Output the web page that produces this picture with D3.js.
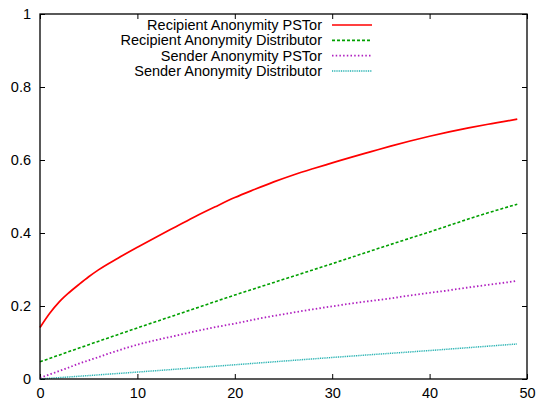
<!DOCTYPE html>
<html>
<head>
<meta charset="utf-8">
<script src="https://cdn.jsdelivr.net/npm/d3@7"></script>
<style>
	body { margin: 0; background: #fff; }
	svg text { font-family: "Liberation Sans", Arial, sans-serif; font-size: 14.5px; fill: #000; }
</style>
</head>
<body>
<svg id="chart" width="536" height="401"></svg>
<script>
'use strict';
// values
var recipientPSTorX = [0, 1, 2, 3, 4, 5, 6, 8, 10, 12, 14, 16, 18, 20, 22, 24, 26, 28, 30, 32, 34, 36, 38, 40, 42, 44, 46, 48, 49];
var recipientPSTorY = [0.141, 0.180, 0.212, 0.237, 0.259, 0.280, 0.299, 0.331, 0.361, 0.390, 0.418, 0.446, 0.472, 0.497, 0.519, 0.540, 0.559, 0.576, 0.592, 0.608, 0.623, 0.638, 0.652, 0.665, 0.677, 0.688, 0.698, 0.707, 0.712];

var recipientDistX = [0, 5, 10, 15, 20, 25, 30, 35, 40, 45, 49];
var recipientDistY = [0.047, 0.094, 0.140, 0.185, 0.230, 0.273, 0.316, 0.360, 0.403, 0.447, 0.479];

var senderPSTorX = [0, 2, 4, 6, 8, 10, 12, 14, 16, 18, 20, 22, 24, 26, 28, 30, 32, 34, 36, 38, 40, 42, 44, 46, 48, 49];
var senderPSTorY = [0.003, 0.022, 0.042, 0.060, 0.078, 0.094, 0.107, 0.119, 0.131, 0.142, 0.152, 0.163, 0.173, 0.182, 0.191, 0.199, 0.207, 0.214, 0.221, 0.229, 0.236, 0.243, 0.251, 0.258, 0.265, 0.269];

var senderDistX = [0, 10, 20, 30, 40, 49];
var senderDistY = [0.0, 0.019, 0.039, 0.059, 0.078, 0.096];

var seriesNames = ['Recipient Anonymity PSTor', 'Recipient Anonymity Distributor', 'Sender Anonymity PSTor', 'Sender Anonymity Distributor'];

var xTicks = [0, 10, 20, 30, 40, 50];
var xTickLabels = ['0', '10', '20', '30', '40', '50'];
var yTicks = [0, 0.2, 0.4, 0.6, 0.8, 1];
var yTickLabels = ['0', '0.2', '0.4', '0.6', '0.8', '1'];

// layout
var margin = {left: 40, top: 14, right: 527, bottom: 379};
var styles = [
	{color: '#ff0000', dash: null, width: 1.7},
	{color: '#00a000', dash: '3,2', width: 1.6},
	{color: '#b020c0', dash: '1.5,2.2', width: 1.8},
	{color: '#20b0b0', dash: '1,0.8', width: 1.5}
];

var svg = d3.select('#chart');
var x = d3.scaleLinear().domain([0, 50]).range([margin.left, margin.right]);
var y = d3.scaleLinear().domain([0, 1]).range([margin.bottom, margin.top]);

var zip = function(xs, ys){
	return xs.map(function(v, i){ return [v, ys[i]]; });
};
var series = [
	zip(recipientPSTorX, recipientPSTorY),
	zip(recipientDistX, recipientDistY),
	zip(senderPSTorX, senderPSTorY),
	zip(senderDistX, senderDistY)
];

// axes, ticks pointing inward on all four sides
var fmtX = function(d){ return xTickLabels[xTicks.indexOf(d)]; };
var fmtY = function(d){ return yTickLabels[yTicks.indexOf(d)]; };

var bottomAxis = svg.append('g')
	.attr('transform', 'translate(0,' + margin.bottom + ')')
	.call(d3.axisBottom(x).tickValues(xTicks).tickFormat(fmtX).tickSizeInner(-5).tickSizeOuter(0).tickPadding(9));
var leftAxis = svg.append('g')
	.attr('transform', 'translate(' + margin.left + ',0)')
	.call(d3.axisLeft(y).tickValues(yTicks).tickFormat(fmtY).tickSizeInner(-5).tickSizeOuter(0).tickPadding(9));
svg.append('g')
	.attr('transform', 'translate(0,' + margin.top + ')')
	.call(d3.axisTop(x).tickValues(xTicks).tickFormat('').tickSizeInner(-5).tickSizeOuter(0));
svg.append('g')
	.attr('transform', 'translate(' + margin.right + ',0)')
	.call(d3.axisRight(y).tickValues(yTicks).tickFormat('').tickSizeInner(-5).tickSizeOuter(0));

svg.selectAll('.domain').remove();
svg.selectAll('.tick line').attr('stroke', '#000').attr('stroke-width', 1);
svg.selectAll('.tick text').attr('font-size', 14.5).attr('fill', '#000')
	.attr('font-family', '"Liberation Sans", Arial, sans-serif');
bottomAxis.selectAll('.tick text').attr('dy', '0.7em');

// curves
var line = d3.line()
	.x(function(d){ return x(d[0]); })
	.y(function(d){ return y(d[1]); })
	.curve(d3.curveMonotoneX);

svg.append('g').selectAll('path')
	.data(series)
	.enter()
	.append('path')
		.attr('d', line)
		.attr('fill', 'none')
		.attr('stroke', function(d, i){ return styles[i].color; })
		.attr('stroke-width', function(d, i){ return styles[i].width; })
		.attr('stroke-dasharray', function(d, i){ return styles[i].dash; });

// frame
svg.append('rect')
	.attr('x', margin.left)
	.attr('y', margin.top)
	.attr('width', margin.right - margin.left)
	.attr('height', margin.bottom - margin.top)
	.attr('fill', 'none')
	.attr('stroke', '#000')
	.attr('stroke-width', 1.3);

// legend
var legendRow = d3.scalePoint().domain(d3.range(seriesNames.length)).range([25, 71]);
var legend = svg.append('g').selectAll('g')
	.data(seriesNames)
	.enter()
	.append('g')
	.attr('transform', function(d, i){ return 'translate(0,' + legendRow(i) + ')'; });
legend.append('text')
	.attr('x', 322)
	.attr('y', 5)
	.attr('text-anchor', 'end')
	.text(function(d){ return d; });
legend.append('line')
	.attr('x1', 332)
	.attr('x2', 372)
	.attr('stroke', function(d, i){ return styles[i].color; })
	.attr('stroke-width', function(d, i){ return styles[i].width; })
	.attr('stroke-dasharray', function(d, i){ return styles[i].dash; });
</script>
</body>
</html>
